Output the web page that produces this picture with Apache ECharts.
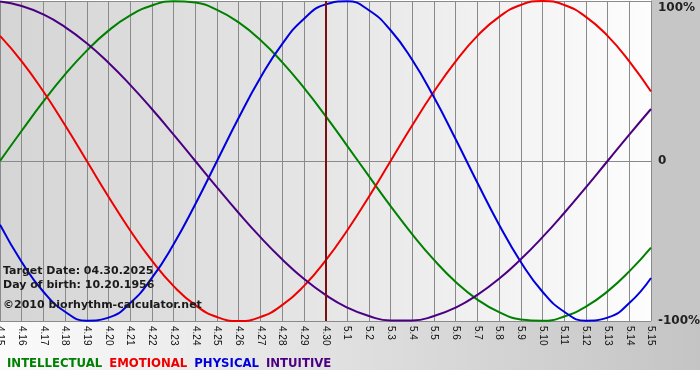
<!DOCTYPE html>
<html>
<head>
<meta charset="utf-8">
<script src="https://cdn.jsdelivr.net/npm/echarts@6/dist/echarts.min.js"></script>
<style>
  html, body { margin: 0; padding: 0; background: #fff; }
  #chart { width: 700px; height: 380px; }
</style>
</head>
<body>
<div id="chart"></div>
<script>
// days shown, 4.15 .. 5.15
var days = ['4.15','4.16','4.17','4.18','4.19','4.20','4.21','4.22','4.23','4.24','4.25','4.26','4.27','4.28','4.29','4.30',
            '5.1','5.2','5.3','5.4','5.5','5.6','5.7','5.8','5.9','5.10','5.11','5.12','5.13','5.14','5.15'];

// values in %
var intellectual = [0, 18.9, 37.2, 54.1, 69.0, 81.5, 91.0, 97.2, 99.9, 99.0, 94.5, 86.6, 75.6, 61.8, 45.8, 28.2,
                    9.5, -9.5, -28.2, -45.8, -61.8, -75.6, -86.6, -94.5, -99.0, -99.9, -97.2, -91.0, -81.5, -69.0, -54.1];
var emotional = [78.2, 62.3, 43.4, 22.3, 0, -22.3, -43.4, -62.3, -78.2, -90.1, -97.5, -100, -97.5, -90.1, -78.2, -62.3,
                 -43.4, -22.3, 0, 22.3, 43.4, 62.3, 78.2, 90.1, 97.5, 100, 97.5, 90.1, 78.2, 62.3, 43.4];
var physical = [-39.8, -63.1, -81.7, -94.2, -99.8, -97.9, -88.8, -73.1, -52.0, -27.0, 0, 27.0, 52.0, 73.1, 88.8, 97.9,
                99.8, 94.2, 81.7, 63.1, 39.8, 13.6, -13.6, -39.8, -63.1, -81.7, -94.2, -99.8, -97.9, -88.8, -73.1];
var intuitive = [99.7, 96.9, 91.6, 83.7, 73.6, 61.4, 47.6, 32.5, 16.5, 0, -16.5, -32.5, -47.6, -61.4, -73.6, -83.7,
                 -91.6, -96.9, -99.7, -99.7, -96.9, -91.6, -83.7, -73.6, -61.4, -47.6, -32.5, -16.5, 0, 16.5, 32.5];

var targetDay = '4.30';
var infoLines = ['Target Date: 04.30.2025', 'Day of birth: 10.20.1956', '\u00a92010 biorhythm-calculator.net'];

var names = ['INTELLECTUAL', 'EMOTIONAL', 'PHYSICAL', 'INTUITIVE'];
var colors = ['#008000', '#ee0000', '#0000dd', '#4b0082'];

var myChart = echarts.init(document.getElementById('chart'));

function makeSeries(i, values) {
    return {
        name: names[i],
        type: 'line',
        data: values,
        smooth: 0.5,
        symbol: 'none',
        lineStyle: { color: colors[i], width: 2 },
        itemStyle: { color: colors[i] },
        z: 3
    };
}

var series_list = [
    makeSeries(0, intellectual),
    makeSeries(1, emotional),
    makeSeries(2, physical),
    makeSeries(3, intuitive)
];
// the vertical line on the target day, drawn on top
series_list.push({
    name: 'target',
    type: 'line',
    data: [],
    z: 5,
    markLine: {
        silent: true,
        symbol: 'none',
        label: { show: false },
        lineStyle: { color: '#7a1010', width: 2, type: 'solid' },
        data: [{ xAxis: targetDay }]
    }
});

var option = {
    backgroundColor: '#ffffff',
    animation: false,
    grid: {
        show: true,
        left: 0, right: 49, top: 1, bottom: 59,
        outerBoundsMode: 'none',
        containLabel: false,
        borderWidth: 0,
        backgroundColor: new echarts.graphic.LinearGradient(0, 0, 1, 0, [
            { offset: 0, color: '#d5d5d5' },
            { offset: 0.5, color: '#e6e6e6' },
            { offset: 1, color: '#fdfdfd' }
        ])
    },
    legend: {
        left: -3, top: 352,
        icon: 'none',
        itemWidth: 0, itemGap: 2,
        selectedMode: false,
        textStyle: { fontFamily: 'DejaVu Sans Condensed', fontWeight: 'bold', fontSize: 13 },
        data: names.map(function(n, i) { return { name: n, textStyle: { color: colors[i] } }; })
    },
    xAxis: {
        type: 'category',
        data: days,
        boundaryGap: false,
        axisLine: { lineStyle: { color: '#8a8a8a', width: 1 } },
        axisTick: { show: true, length: 4, interval: 0, lineStyle: { color: '#8a8a8a' } },
        splitLine: { show: true, interval: 0, lineStyle: { color: '#8a8a8a', width: 1 } },
        axisLabel: {
            interval: 0, rotate: -90, margin: 5,
            color: '#111', fontFamily: 'Liberation Sans', fontSize: 10
        }
    },
    yAxis: {
        type: 'value',
        position: 'right',
        min: -100, max: 100, interval: 100,
        axisLine: { show: false },
        axisTick: { show: false },
        splitLine: { show: true, lineStyle: { color: '#8a8a8a', width: 1 } },
        axisLabel: {
            margin: 7, color: '#222',
            fontFamily: 'DejaVu Sans', fontWeight: 'bold', fontSize: 12,
            formatter: function(v) {
                if (v === 100) return '{top|100%}';
                return v === 0 ? '0' : v + '%';
            },
            rich: {
                top: { padding: [14, 0, 0, 0], fontFamily: 'DejaVu Sans', fontWeight: 'bold', fontSize: 12, color: '#222' }
            }
        }
    },
    graphic: [
        // right panel
        { type: 'rect', z: -10, silent: true, shape: { x: 651, y: 0, width: 49, height: 321 }, style: { fill: '#c6c6c6' } },
        // band under the plot
        { type: 'rect', z: -10, silent: true, shape: { x: 0, y: 321, width: 700, height: 49 },
          style: { fill: new echarts.graphic.LinearGradient(0, 0, 1, 0, [
              { offset: 0, color: '#fbfbfb' },
              { offset: 1, color: '#c4c4c4' }
          ]) } },
        { type: 'text', z: 10, silent: true, left: 3, top: 266,
          style: { text: infoLines[0], fill: '#1a1a1a', font: 'bold 11px "DejaVu Sans"' } },
        { type: 'text', z: 10, silent: true, left: 3, top: 280,
          style: { text: infoLines[1], fill: '#1a1a1a', font: 'bold 11px "DejaVu Sans"' } },
        { type: 'text', z: 10, silent: true, left: 3, top: 300,
          style: { text: infoLines[2], fill: '#1a1a1a', font: 'bold 11px "DejaVu Sans"' } }
    ],
    series: series_list
};

myChart.setOption(option);
</script>
</body>
</html>
